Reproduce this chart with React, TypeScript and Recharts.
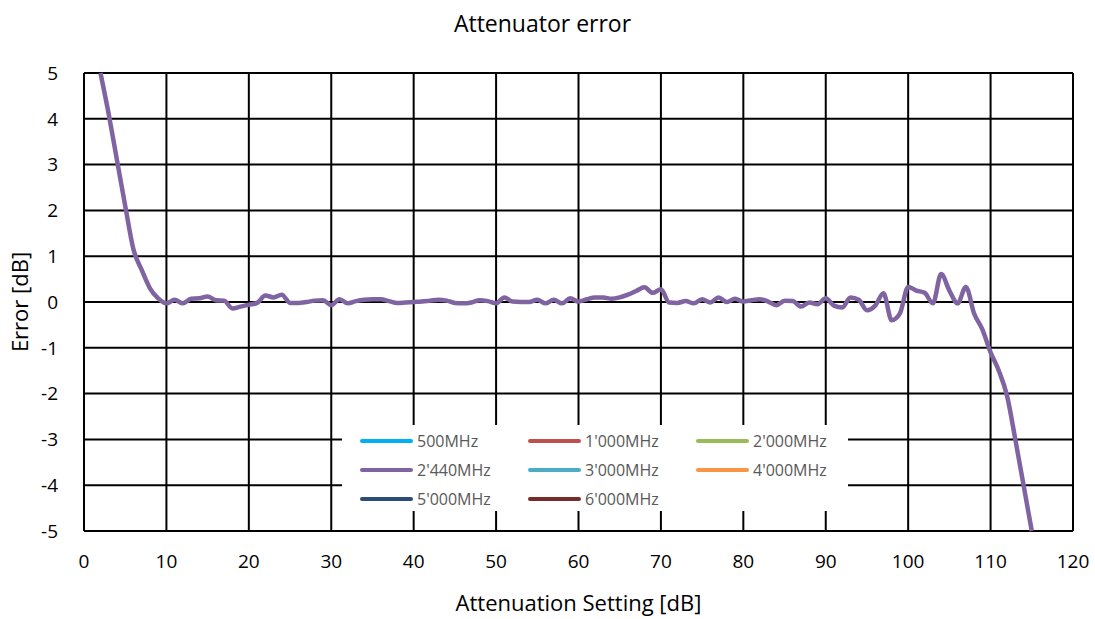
import { LineChart, Line, XAxis, YAxis, CartesianGrid } from 'recharts';

const attenuation = [
  2, 3, 4, 5, 6, 7, 8, 9, 10, 11, 12, 13, 14, 15, 16, 17, 18, 19, 20,
  21, 22, 23, 24, 25, 26, 27, 28, 29, 30, 31, 32, 33, 34, 35, 36, 37, 38, 39, 40,
  41, 42, 43, 44, 45, 46, 47, 48, 49, 50, 51, 52, 53, 54, 55, 56, 57, 58, 59, 60,
  61, 62, 63, 64, 65, 66, 67, 68, 69, 70, 71, 72, 73, 74, 75, 76, 77, 78, 79, 80,
  81, 82, 83, 84, 85, 86, 87, 88, 89, 90, 91, 92, 93, 94, 95, 96, 97, 98, 99, 100,
  101, 102, 103, 104, 105, 106, 107, 108, 109, 110, 111, 112, 113, 114, 115,
];

const error2440 = [
  5, 4.1, 3.1, 2.1, 1.15, 0.7, 0.3, 0.08, -0.03, 0.05, -0.03, 0.07, 0.08, 0.12, 0.04, 0.03, -0.14, -0.1, -0.06,
  -0.02, 0.14, 0.1, 0.16, -0.02, -0.02, 0.0, 0.03, 0.04, -0.07, 0.06, -0.03, 0.02, 0.05, 0.06, 0.06, 0.02, -0.02, -0.01, 0.0,
  0.01, 0.03, 0.05, 0.03, -0.02, -0.03, -0.01, 0.04, 0.02, -0.03, 0.1, 0.01, 0.0, 0.0, 0.05, -0.03, 0.05, -0.03, 0.08, 0.01,
  0.06, 0.1, 0.1, 0.07, 0.1, 0.16, 0.24, 0.32, 0.2, 0.28, -0.01, -0.02, 0.02, -0.03, 0.06, -0.01, 0.1, 0.0, 0.07, 0.01,
  0.04, 0.06, 0.01, -0.07, 0.03, 0.02, -0.1, -0.01, -0.05, 0.08, -0.08, -0.12, 0.1, 0.05, -0.18, -0.08, 0.19, -0.4, -0.25, 0.33,
  0.25, 0.2, -0.03, 0.61, 0.25, -0.03, 0.33, -0.25, -0.6, -1.1, -1.5, -2.05, -3.0, -4.0, -5.0,
];

const seriesNames = ['500MHz', "1'000MHz", "2'000MHz", "2'440MHz", "3'000MHz", "4'000MHz", "5'000MHz", "6'000MHz"];
const seriesColors = ['#00B0F0', '#C0504D', '#9BBB59', '#8064A2', '#4BACC6', '#F79646', '#2C4D75', '#772C2A'];

const xTicks = [0, 10, 20, 30, 40, 50, 60, 70, 80, 90, 100, 110, 120];
const yTicks = [-5, -4, -3, -2, -1, 0, 1, 2, 3, 4, 5];

const data = attenuation.map((x, i) => ({ x, e2440: error2440[i] }));

const FONT = '"Open Sans", "Noto Sans", sans-serif';

// legend drawn as an overlay so it doesn't shrink the plot area
const LegendBox = () => (
  <div style={{ position: 'absolute', left: 342, top: 425, width: 506, height: 86, background: '#fff', fontFamily: FONT, fontSize: 16, color: '#595959', boxSizing: 'border-box', paddingLeft: 18, paddingTop: 1 }}>
    <div style={{ display: 'flex', flexWrap: 'wrap', width: 504 }}>
      {seriesNames.map((n, i) => (
        <div key={n} style={{ width: 168, height: 29, display: 'flex', alignItems: 'center' }}>
          <span style={{ display: 'inline-block', width: 53, height: 4, borderRadius: 2, background: seriesColors[i], marginRight: 4 }} />
          <span style={{ whiteSpace: 'nowrap' }}>{n}</span>
        </div>
      ))}
    </div>
  </div>
);

export default function App() {
  return (
    <div style={{ position: 'absolute', left: 0, top: 0, width: 1095, height: 619, background: '#fff', fontFamily: FONT }}>
      <div style={{ position: 'absolute', top: 7, left: 0, width: 1085, textAlign: 'center', fontSize: 23, color: '#000' }}>
        Attenuator error
      </div>
      <LineChart width={1095} height={619} data={data} margin={{ top: 73, right: 22, bottom: 28, left: 24 }}>
        <CartesianGrid stroke="#000" strokeWidth={2} horizontalValues={yTicks} verticalValues={xTicks} />
        <XAxis
          dataKey="x"
          type="number"
          domain={[0, 120]}
          ticks={xTicks}
          axisLine={false}
          tickLine={false}
          tickMargin={18}
          tick={{ fill: '#000', fontSize: 19, fontFamily: FONT }}
          height={60}
          label={{ value: 'Attenuation Setting [dB]', position: 'insideBottom', offset: -20, fill: '#000', fontSize: 22, fontFamily: FONT }}
        />
        <YAxis
          type="number"
          domain={[-5, 5]}
          ticks={yTicks}
          axisLine={false}
          tickLine={false}
          tickMargin={20}
          width={60}
          tick={{ fill: '#000', fontSize: 19, fontFamily: FONT }}
          label={{ value: 'Error [dB]', angle: -90, position: 'insideLeft', offset: -4, fill: '#000', fontSize: 22, fontFamily: FONT, style: { textAnchor: 'middle' } }}
        />
        <Line
          type="monotone"
          dataKey="e2440"
          name="2'440MHz"
          stroke="#8064A2"
          strokeWidth={4.5}
          dot={false}
          isAnimationActive={false}
        />
      </LineChart>
      <LegendBox />
    </div>
  );
}
